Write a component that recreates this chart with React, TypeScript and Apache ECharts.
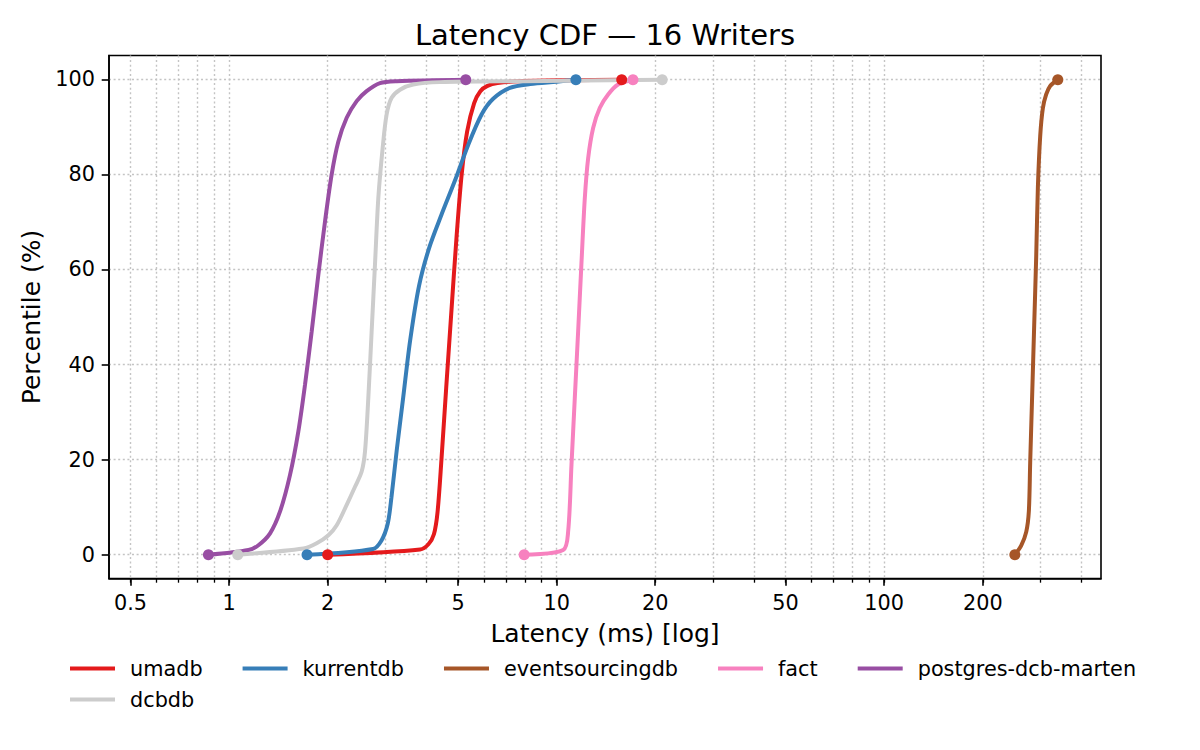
import React, { useEffect, useRef } from 'react';
import * as echarts from 'echarts';

const FONT = '"DejaVu Sans", "Liberation Sans", sans-serif';

const SERIES_NAMES = ['umadb', 'kurrentdb', 'eventsourcingdb', 'fact', 'postgres-dcb-marten', 'dcbdb'];
const COLORS = ['#e41a1c', '#377eb8', '#a65628', '#f781bf', '#984ea3', '#cccccc'];

const umadbLatency = [2.0, 3.83, 4.06, 4.22, 4.33, 4.45, 4.6, 4.77, 4.95, 5.13, 5.33, 5.6, 5.85, 6.15, 6.6, 7.7, 11.0, 15.8];
const umadbPct = [0, 1.1, 2.2, 4.3, 9, 20, 35, 51, 67, 80, 89, 95, 97.5, 98.6, 99.2, 99.6, 99.8, 99.9];

const kurrentLatency = [1.73, 2.75, 2.92, 3.05, 3.13, 3.25, 3.4, 3.57, 3.8, 4.08, 4.45, 4.9, 5.37, 5.9, 6.4, 7.2, 8.3, 10.0, 11.45];
const kurrentPct = [0, 1.2, 3, 6.5, 12, 22, 33, 45, 56.5, 64.5, 71.5, 78.8, 86.2, 92.6, 95.9, 98.2, 99.0, 99.5, 99.9];

const esdbLatency = [250.5, 261.9, 271.4, 276.4, 279.0, 283.0, 287.0, 291.1, 294.5, 299.4, 305.0, 312.2, 321.1, 338.8];
const esdbPct = [0, 1.9, 4.8, 9.1, 19.3, 33.8, 48.3, 62.8, 77.2, 88.1, 93.9, 96.8, 98.6, 99.9];

const factLatency = [7.96, 10.47, 10.84, 11.1, 11.36, 11.63, 11.9, 12.19, 12.48, 12.93, 13.55, 14.36, 15.4, 17.1];
const factPct = [0, 1.0, 4.8, 18.9, 32.9, 46.9, 61.0, 75.0, 83.4, 89.8, 94.0, 96.8, 98.9, 99.9];

const martenLatency = [0.865, 1.146, 1.229, 1.334, 1.431, 1.535, 1.627, 1.705, 1.787, 1.873, 1.963, 2.056, 2.156, 2.286, 2.452, 2.63, 2.888, 3.25, 5.28];
const martenPct = [0, 1.0, 2.0, 4.5, 9.1, 16.8, 25.9, 35.7, 46.9, 58.9, 70.1, 79.9, 86.9, 91.9, 95.4, 97.5, 99.2, 99.6, 99.9];

const dcbdbLatency = [1.063, 1.686, 1.851, 2.01, 2.131, 2.286, 2.424, 2.54, 2.6, 2.661, 2.724, 2.789, 2.855, 2.943, 3.027, 3.135, 3.325, 3.651, 4.4, 8.0, 21.0];
const dcbdbPct = [0, 1.3, 2.4, 4.1, 6.2, 10.5, 14.3, 17.5, 21.7, 32.9, 46.9, 61.0, 75.0, 85.5, 92.6, 96.1, 97.8, 98.9, 99.4, 99.6, 99.9];

const LATENCIES = [umadbLatency, kurrentLatency, esdbLatency, factLatency, martenLatency, dcbdbLatency];
const PERCENTILES = [umadbPct, kurrentPct, esdbPct, factPct, martenPct, dcbdbPct];

const X_LABEL_TICKS = [0.5, 1, 2, 5, 10, 20, 50, 100, 200];
const X_ALL_TICKS = [0.5, 0.6, 0.7, 0.8, 0.9, 1, 2, 3, 4, 5, 6, 7, 8, 9, 10, 20, 30, 40, 50, 60, 70, 80, 90, 100, 200, 300, 400];
const Y_TICKS = [0, 20, 40, 60, 80, 100];

const X_MIN = 0.43;
const X_MAX = 459;

function buildOption() {
  const series = SERIES_NAMES.map((name, i) => {
    const lat = LATENCIES[i];
    const pct = PERCENTILES[i];
    const last = lat.length - 1;
    return {
      type: 'line',
      name,
      xAxisIndex: 0,
      yAxisIndex: 0,
      data: lat.map((x, j) => [x, pct[j]]),
      smooth: 0.3,
      symbol: 'circle',
      showSymbol: true,
      symbolSize: (_v: any, p: any) => (p.dataIndex === 0 || p.dataIndex === last ? 11 : 0),
      lineStyle: { color: COLORS[i], width: 4 },
      itemStyle: { color: COLORS[i], borderWidth: 0 },
      emphasis: { disabled: true },
      silent: true,
    };
  });

  const legendCommon = {
    orient: 'horizontal',
    padding: 0,
    itemGap: 40,
    itemWidth: 45,
    itemHeight: 4,
    selectedMode: false,
    itemStyle: { borderWidth: 0 },
    textStyle: { fontSize: 20.8, fontFamily: FONT, color: '#000', padding: [0, 0, 0, 10] },
  };

  const axisLineStyle = { color: '#000', width: 1.6 };
  const gridLineStyle = { color: '#c4c4c4', width: 1.4, type: [2, 2.6] };

  return {
    animation: false,
    backgroundColor: '#fff',
    color: COLORS,
    title: {
      text: 'Latency CDF — 16 Writers',
      left: 605,
      textAlign: 'center',
      top: 20,
      padding: 0,
      textStyle: { fontSize: 29, fontWeight: 'normal', fontFamily: FONT, color: '#000' },
    },
    legend: [
      { ...legendCommon, data: SERIES_NAMES.slice(0, 5).map((n) => ({ name: n, icon: 'rect' })), left: 70, top: 658 },
      { ...legendCommon, data: SERIES_NAMES.slice(5).map((n) => ({ name: n, icon: 'rect' })), left: 70, top: 689 },
    ],
    grid: {
      left: 109,
      right: 99,
      top: 55.5,
      bottom: 171.5,
      show: true,
      borderColor: '#000',
      borderWidth: 1.6,
      backgroundColor: 'transparent',
      containLabel: false,
      outerBoundsMode: 'none',
    },
    xAxis: [
      {
        type: 'log',
        logBase: 10,
        min: X_MIN,
        max: X_MAX,
        position: 'bottom',
        name: 'Latency (ms) [log]',
        nameLocation: 'middle',
        nameGap: 42,
        nameTextStyle: { fontSize: 25, fontFamily: FONT, color: '#000' },
        axisLine: { show: true, onZero: false, lineStyle: axisLineStyle },
        axisTick: { show: true, inside: false, length: 7.3, customValues: X_LABEL_TICKS, lineStyle: axisLineStyle },
        axisLabel: {
          show: true,
          customValues: X_LABEL_TICKS,
          fontSize: 20.8,
          fontFamily: FONT,
          color: '#000',
          margin: 14,
          formatter: (v: number) => String(+Number(v).toPrecision(6)),
        },
        splitLine: { show: false },
        minorTick: { show: false },
      },
      {
        type: 'log',
        logBase: 10,
        min: X_MIN,
        max: X_MAX,
        position: 'bottom',
        axisLine: { show: false, onZero: false },
        axisTick: { show: true, inside: false, length: 4.2, customValues: X_ALL_TICKS, lineStyle: { color: '#000', width: 1.3 } },
        axisLabel: { show: false },
        splitLine: { show: true, lineStyle: gridLineStyle },
      },
    ],
    yAxis: {
      type: 'value',
      min: -5,
      max: 105,
      name: 'Percentile (%)',
      nameLocation: 'middle',
      nameGap: 60,
      nameRotate: 90,
      nameTextStyle: { fontSize: 25, fontFamily: FONT, color: '#000' },
      axisLine: { show: true, onZero: false, lineStyle: axisLineStyle },
      axisTick: { show: true, inside: false, length: 7.3, customValues: Y_TICKS, lineStyle: axisLineStyle },
      axisLabel: { show: true, customValues: Y_TICKS, fontSize: 20.8, fontFamily: FONT, color: '#000', margin: 14 },
      splitLine: { show: true, lineStyle: gridLineStyle },
    },
    series,
  };
}

export default function App() {
  const ref = useRef<HTMLDivElement>(null);
  useEffect(() => {
    document.body.style.margin = '0';
    const chart = echarts.init(ref.current as HTMLDivElement, null, { renderer: 'svg' });
    chart.setOption(buildOption() as any);
    return () => chart.dispose();
  }, []);
  return <div ref={ref} style={{ width: 1200, height: 750 }} />;
}
